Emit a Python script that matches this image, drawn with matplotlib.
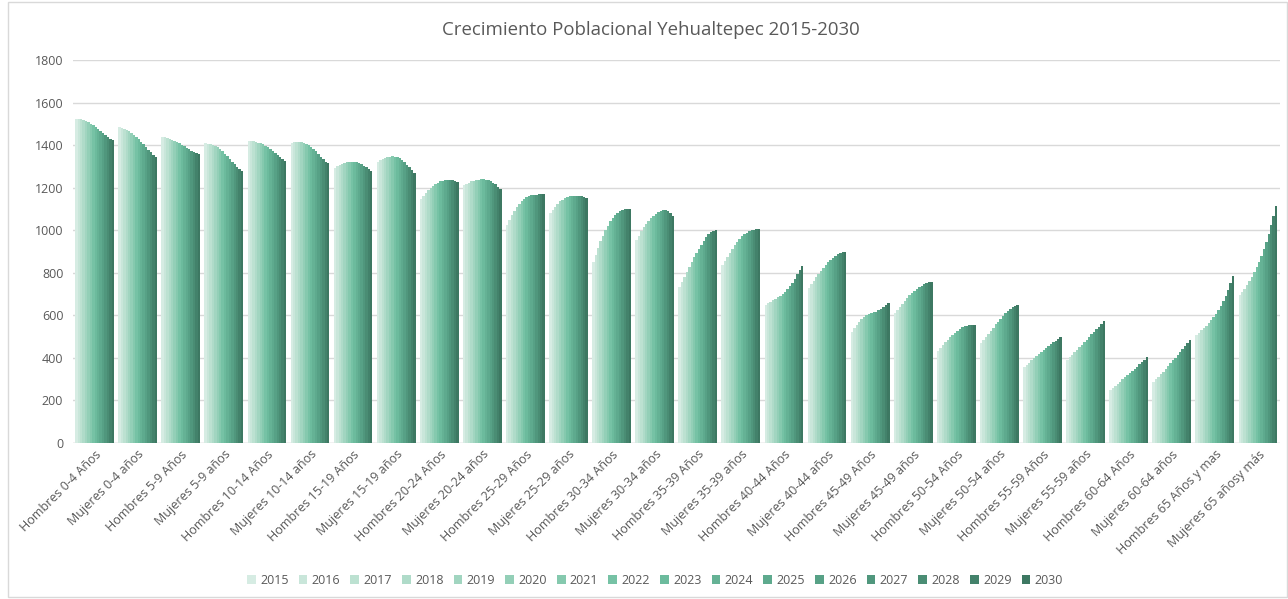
import matplotlib
matplotlib.use("Agg")
import matplotlib.pyplot as plt
import numpy as np
from matplotlib.colors import LinearSegmentedColormap
from matplotlib.patches import Rectangle

categories = ["Hombres 0-4 Años", "Mujeres 0-4 años", "Hombres 5-9 Años", "Mujeres 5-9 años",
              "Hombres 10-14 Años", "Mujeres 10-14 años", "Hombres 15-19 Años", "Mujeres 15-19 años",
              "Hombres 20-24 Años", "Mujeres 20-24 años", "Hombres 25-29 Años", "Mujeres 25-29 años",
              "Hombres 30-34 Años", "Mujeres 30-34 años", "Hombres 35-39 Años", "Mujeres 35-39 años",
              "Hombres 40-44 Años", "Mujeres 40-44 años", "Hombres 45-49 Años", "Mujeres 45-49 años",
              "Hombres 50-54 Años", "Mujeres 50-54 años", "Hombres 55-59 Años", "Mujeres 55-59 años",
              "Hombres 60-64 Años", "Mujeres 60-64 años", "Hombres 65 Años y mas", "Mujeres 65 añosy más"]

years = ["2015", "2016", "2017", "2018", "2019", "2020", "2021", "2022",
         "2023", "2024", "2025", "2026", "2027", "2028", "2029", "2030"]

y2015 = [1525, 1483, 1440, 1408, 1418, 1411, 1294, 1322, 1145, 1212, 1024, 1079, 852, 954, 735, 836, 648, 727, 523, 609, 434, 468, 358, 390, 249, 288, 508, 695]
y2016 = [1525, 1481, 1438, 1407, 1418, 1414, 1300, 1328, 1160, 1218, 1048, 1096, 885, 975, 758, 856, 656, 745, 540, 625, 447, 482, 368, 402, 259, 300, 518, 710]
y2017 = [1523, 1478, 1435, 1405, 1417, 1415, 1306, 1334, 1174, 1224, 1070, 1111, 917, 995, 781, 876, 663, 762, 556, 640, 460, 497, 378, 414, 269, 312, 529, 726]
y2018 = [1519, 1473, 1431, 1401, 1415, 1415, 1311, 1339, 1187, 1229, 1090, 1124, 947, 1013, 804, 895, 670, 779, 570, 655, 473, 512, 388, 426, 279, 324, 540, 743]
y2019 = [1514, 1466, 1426, 1396, 1412, 1413, 1315, 1343, 1198, 1233, 1108, 1135, 975, 1030, 827, 913, 677, 795, 582, 669, 486, 527, 398, 438, 289, 336, 552, 761]
y2020 = [1508, 1458, 1420, 1389, 1408, 1410, 1319, 1346, 1208, 1236, 1123, 1144, 1000, 1045, 850, 930, 684, 810, 592, 682, 498, 542, 408, 450, 299, 349, 565, 781]
y2021 = [1501, 1449, 1414, 1381, 1403, 1405, 1321, 1347, 1216, 1238, 1136, 1151, 1022, 1058, 872, 945, 691, 824, 600, 694, 509, 557, 418, 462, 309, 362, 578, 803]
y2022 = [1493, 1439, 1408, 1371, 1397, 1399, 1322, 1346, 1223, 1239, 1146, 1156, 1041, 1069, 893, 959, 700, 837, 606, 705, 519, 571, 427, 474, 319, 375, 592, 827]
y2023 = [1485, 1428, 1401, 1360, 1390, 1391, 1322, 1343, 1229, 1239, 1154, 1160, 1057, 1078, 913, 971, 710, 849, 610, 715, 528, 585, 437, 486, 329, 388, 608, 853]
y2024 = [1476, 1416, 1394, 1348, 1382, 1381, 1320, 1338, 1233, 1238, 1160, 1162, 1070, 1085, 932, 981, 722, 860, 614, 724, 536, 598, 446, 498, 339, 401, 625, 881]
y2025 = [1467, 1404, 1387, 1335, 1373, 1370, 1316, 1330, 1236, 1235, 1164, 1163, 1081, 1090, 950, 989, 737, 870, 618, 732, 543, 610, 455, 510, 349, 414, 645, 912]
y2026 = [1457, 1391, 1380, 1322, 1363, 1358, 1310, 1320, 1237, 1231, 1166, 1163, 1089, 1093, 966, 995, 754, 879, 624, 739, 548, 620, 464, 522, 359, 427, 667, 946]
y2027 = [1448, 1378, 1373, 1310, 1353, 1346, 1303, 1308, 1236, 1224, 1167, 1162, 1095, 1094, 980, 1000, 772, 886, 632, 745, 552, 629, 473, 534, 369, 441, 692, 983]
y2028 = [1439, 1366, 1367, 1298, 1343, 1334, 1296, 1295, 1234, 1215, 1168, 1160, 1098, 1092, 991, 1003, 792, 892, 640, 750, 554, 637, 481, 546, 380, 455, 720, 1023]
y2029 = [1430, 1354, 1361, 1288, 1333, 1322, 1288, 1282, 1231, 1205, 1168, 1156, 1100, 1082, 998, 1005, 812, 896, 648, 755, 555, 643, 489, 560, 391, 469, 752, 1066]
y2030 = [1422, 1342, 1357, 1280, 1325, 1314, 1280, 1270, 1228, 1196, 1168, 1150, 1098, 1067, 1002, 1005, 830, 899, 656, 758, 555, 648, 496, 575, 403, 484, 785, 1114]

series = [y2015, y2016, y2017, y2018, y2019, y2020, y2021, y2022,
          y2023, y2024, y2025, y2026, y2027, y2028, y2029, y2030]

plt.rcParams['font.family'] = ['Open Sans', 'DejaVu Sans']
text_color = '#595959'

cmap = LinearSegmentedColormap.from_list('g', ['#d6ece3', '#a5d7c2', '#6fbfa1', '#559f84', '#3d7862'])
colors = [cmap(i / 15) for i in range(16)]

fig = plt.figure(figsize=(12.88, 5.99), dpi=100)
ax = fig.add_axes([73 / 1288, 1 - 443 / 599, (1279.5 - 73) / 1288, (443 - 60) / 599])

n = len(series)
band = 0.9
w = band / n
x = np.arange(len(categories))
for j, vals in enumerate(series):
    ax.bar(x - band / 2 + (j + 0.5) * w, vals, width=w, color=colors[j], label=years[j],
           linewidth=0, zorder=3)

ax.set_xlim(-0.5, len(categories) - 0.5)
ax.set_ylim(0, 1800)
ax.set_yticks(np.arange(0, 1801, 200))
ax.yaxis.grid(True, color='#d9d9d9', linewidth=1, zorder=0)
ax.set_axisbelow(True)
for s in ax.spines.values():
    s.set_visible(False)
ax.axhline(0, color='#d9d9d9', linewidth=1, zorder=2)
ax.tick_params(axis='both', length=0, colors=text_color, labelsize=9)
ax.set_xticks(x)
ax.set_xticklabels(categories, rotation=45, ha='right', rotation_mode='anchor', fontsize=9)
ax.tick_params(axis='y', pad=7)

fig.text(650.5 / 1288, 1 - 30 / 599, "Crecimiento Poblacional Yehualtepec 2015-2030", ha='center', va='center',
         fontsize=13.4, color=text_color)

leg = fig.legend(loc='center', bbox_to_anchor=(655 / 1288, 1 - 580 / 599), ncol=16, frameon=False,
                 fontsize=9, handlelength=0.7, handleheight=0.7, handletextpad=0.35, columnspacing=0.8)
for t in leg.get_texts():
    t.set_color(text_color)

fig.patches.append(Rectangle((8 / 1288, 0.003), 1 - 9 / 1288, 0.994, transform=fig.transFigure,
                             fill=False, edgecolor='#d9d9d9', linewidth=1))

fig.savefig('out.png', dpi=100)
